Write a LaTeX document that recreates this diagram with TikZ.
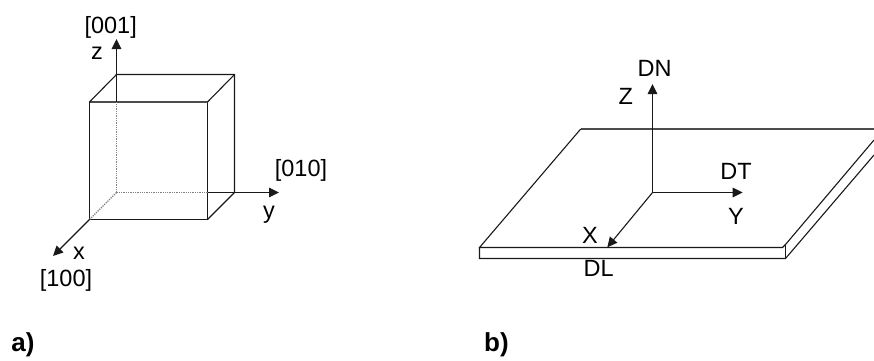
\documentclass[tikz,border=0pt]{standalone}
\usepackage{fontspec}
\setmainfont{Liberation Sans}
\usetikzlibrary{arrows.meta}
\tikzset{
  axislabel/.style={inner sep=0pt,font=\fontsize{23.5}{26}\selectfont},
  partlabel/.style={inner sep=0pt,font=\fontsize{26}{28}\selectfont\bfseries},
  edgeline/.style={draw=black!90,line width=1.1pt},
  heavyline/.style={draw=black!70,line width=1.8pt},
  hiddenline/.style={draw=black!50,line width=1.3pt,densely dotted},
  axisline/.style={draw=black!90,line width=1.1pt,-{Triangle[length=10pt,width=9.5pt]}},
  every picture/.style={line cap=butt,line join=miter}
}
\begin{document}
\begin{tikzpicture}[x=1pt,y=-1pt]
    \useasboundingbox (0,0) rectangle (874,360);
    \coordinate (fronttl) at (89.5,102);
    \coordinate (fronttr) at (207.5,102);
    \coordinate (frontbr) at (207.5,219.5);
    \coordinate (frontbl) at (89.5,219.5);
    \coordinate (backtl) at (116.5,74.5);
    \coordinate (backtr) at (234.5,74.5);
    \coordinate (backbr) at (234.5,192.5);
    \coordinate (backbl) at (116.5,192.5);
    \coordinate (ztip) at (116.5,39);
    \coordinate (ytip) at (279,192.5);
    \coordinate (xtip) at (53,256);
    \coordinate (zcross) at (116.5,102);
    \coordinate (ycross) at (207.5,192.5);
    \draw[edgeline] (fronttr) -- (frontbr) -- (frontbl) -- (fronttl);
    \draw[heavyline] (fronttl) -- (fronttr);
    \draw[edgeline] (fronttl) -- (backtl) -- (backtr) -- (backbr) -- (frontbr);
    \draw[edgeline] (fronttr) -- (backtr);
    \draw[hiddenline] (backbl) -- (zcross);
    \draw[hiddenline] (backbl) -- (ycross);
    \draw[hiddenline] (backbl) -- (frontbl);
    \draw[axisline] (zcross) -- (ztip);
    \draw[axisline] (ycross) -- (ytip);
    \draw[axisline] (frontbl) -- (xtip);
    \node[axislabel] (cubez) at (97,53) {z};
    \node[axislabel] (cubezdir) at (110.7,27) {[001]};
    \node[axislabel] (cubey) at (269,215) {y};
    \node[axislabel] (cubeydir) at (301,170) {[010]};
    \node[axislabel] (cubex) at (79,253) {x};
    \node[axislabel] (cubexdir) at (66,280) {[100]};
    \coordinate (platetl) at (580.7,129);
    \coordinate (platetr) at (874,129);
    \coordinate (platefl) at (479.5,247.5);
    \coordinate (platefr) at (782.5,247.5);
    \coordinate (platert) at (785.5,244.5);
    \coordinate (platebl) at (479.5,258.5);
    \coordinate (platebr) at (785.5,258.5);
    \coordinate (plateup) at (874,140);
    \coordinate (platelow) at (874,155);
    \coordinate (origin) at (652.5,192.5);
    \coordinate (plateztip) at (652.5,84);
    \coordinate (plateytip) at (742.7,192.5);
    \coordinate (platextip) at (607.3,247.3);
    \draw[heavyline] (platetr) -- (platetl);
    \draw[edgeline] (platetl) -- (platefl) -- (platefr) -- (platert) -- (plateup);
    \draw[edgeline] (platefl) -- (platebl) -- (platebr) -- (platelow);
    \draw[edgeline] (platert) -- (platebr);
    \draw[axisline] (origin) -- (plateztip);
    \draw[axisline] (origin) -- (plateytip);
    \draw[axisline] (origin) -- (platextip);
    \node[axislabel] (platedn) at (654.7,68) {DN};
    \node[axislabel] (platez) at (625.7,96) {Z};
    \node[axislabel] (platedt) at (736,171.7) {DT};
    \node[axislabel] (platey) at (736,216.7) {Y};
    \node[axislabel] (platex) at (590,235) {X};
    \node[axislabel] (platedl) at (598.7,268) {DL};
    \node[partlabel] (parta) at (23,345) {a)};
    \node[partlabel] (partb) at (496.5,345) {b)};
  \end{tikzpicture}
\end{document}
